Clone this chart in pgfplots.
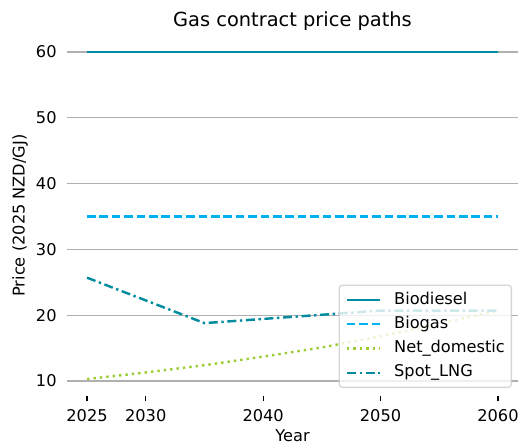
\documentclass[border=0pt]{standalone}
\usepackage{fontspec}
\setmainfont{DejaVu Sans}
\usepackage{pgfplots}
\pgfplotsset{compat=1.18}
\definecolor{cbiodiesel}{RGB}{0,140,163}
\definecolor{cbiogas}{RGB}{0,176,240}
\definecolor{cnet}{RGB}{154,205,50}
\definecolor{cspot}{RGB}{0,140,158}
\definecolor{cgrid}{RGB}{176,176,176}
\definecolor{cframe}{RGB}{204,204,204}
\newcommand{\fs}{\fontsize{16.2bp}{19.4bp}\selectfont}
\begin{document}
\begin{tikzpicture}
\begin{axis}[
  scale only axis, width=452bp, height=360bp,
  xmin=2023.25, xmax=2061.75, ymin=7.8, ymax=62.5,
  xtick={2025,2030,2040,2050,2060},
  xticklabels={2025,2030,2040,2050,2060},
  ytick={10,20,30,40,50,60},
  /pgf/number format/assume math mode=true,
  axis line style={draw=none},
  ymajorgrids, grid style={color=cgrid, line width=1.3bp},
  tick align=outside, xtick pos=bottom, ytick pos=left,
  major tick length=5.7bp,
  xtick style={draw=black, line width=1.3bp},
  ytick style={draw=none},
  tick label style={font=\fs, inner sep=0pt},
  xticklabel style={anchor=north, yshift=-8bp},
  yticklabel style={anchor=east, xshift=-4bp},
  xlabel={Year}, ylabel={Price (2025 NZD/GJ)},
  xlabel style={font=\fs, at={(axis description cs:0.5,0)}, anchor=north, inner sep=0pt, yshift=-33.5bp},
  ylabel style={font=\fs, at={(axis description cs:0,0.5)}, anchor=center, inner sep=0pt, rotate=0, yshift=46.5bp},
  title={Gas contract price paths},
  title style={font=\fontsize{19.4bp}{23bp}\selectfont, at={(axis description cs:0.5,1)}, anchor=north, inner sep=0pt, yshift=17.5bp},
  legend cell align=left,
  legend image code/.code={\draw[#1, opacity=1] (0bp,0bp) -- (33bp,0bp);},
  legend style={font=\fs, at={(1,0)}, anchor=south east, xshift=-6.5bp, yshift=7.5bp,
    fill=white, fill opacity=0.8, draw=cframe, draw opacity=0.8, text opacity=1,
    line width=1.3bp, rounded corners=3.2bp,
    inner xsep=6.5bp, inner ysep=6.5bp, column sep=13bp, row sep=8.1bp,
    nodes={inner sep=0pt, text height=12.3bp, text depth=3.9bp}},
]
\addplot[color=cbiodiesel, line width=2.43bp] coordinates {(2025,60) (2060,60)};
\addlegendentry{Biodiesel}
\addplot[color=cbiogas, line width=2.43bp, dash pattern=on 8.5bp off 3.9bp] coordinates {(2025,35) (2060,35)};
\addlegendentry{Biogas}
\addplot[color=cnet, line width=2.43bp, dash pattern=on 2.43bp off 4bp] coordinates {
(2025,10.3) (2030,11.3) (2035,12.4) (2040,13.7) (2045,15.1) (2050,16.8) (2055,18.7) (2060,20.7)};
\addlegendentry{Net\_domestic}
\addplot[color=cspot, line width=2.43bp, dash pattern=on 9bp off 3.6bp on 2.4bp off 3.6bp] coordinates {
(2025,25.7) (2035,18.8) (2050,20.7) (2060,20.7)};
\addlegendentry{Spot\_LNG}
\end{axis}
\pgfresetboundingbox
\useasboundingbox (-66.5bp,-48.5bp) rectangle (451.5bp,395.5bp);
\end{tikzpicture}
\end{document}
